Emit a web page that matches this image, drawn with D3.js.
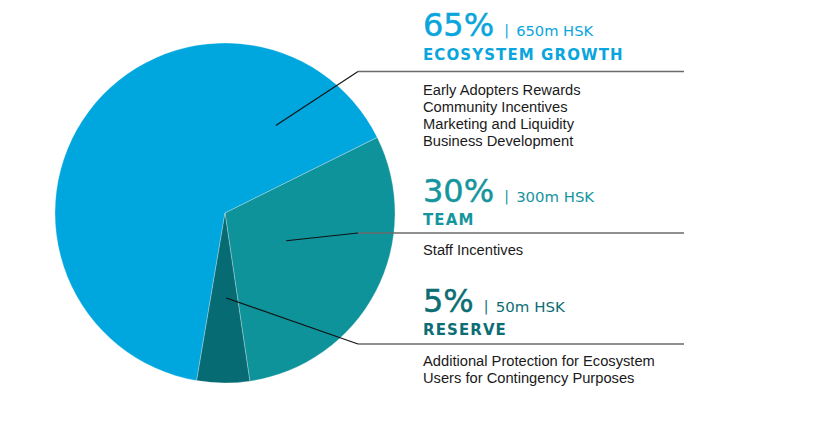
<!DOCTYPE html>
<html><head><meta charset="utf-8">
<script src="https://cdn.jsdelivr.net/npm/d3@7"></script>
<style>html,body{margin:0;padding:0;background:#fff;}svg{display:block;}</style>
</head><body>
<svg id="chart" width="814" height="436"></svg>
<script>
const categories = ["Ecosystem Growth", "Team", "Reserve"];
const percents = [65, 30, 5];
const amounts = ["650m HSK", "300m HSK", "50m HSK"];
const titles = ["ECOSYSTEM GROWTH", "TEAM", "RESERVE"];
const descriptions = [
  ["Early Adopters Rewards", "Community Incentives", "Marketing and Liquidity", "Business Development"],
  ["Staff Incentives"],
  ["Additional Protection for Ecosystem", "Users for Contingency Purposes"]
];
const sliceColors = ["#00a6de", "#0f939b", "#066b73"];
const textColors = ["#09a5dc", "#15959d", "#0c6d74"];

const svg = d3.select("#chart");
const cx = 225, cy = 213, R = 170;
const deg = Math.PI / 180;
const start = 189.6 * deg;

const pie = d3.pie().sort(null).value(d => d).startAngle(start).endAngle(start + 2 * Math.PI);
const arcs = pie(percents);
const arc = d3.arc().innerRadius(0).outerRadius(R);

const g = svg.append("g").attr("transform", `translate(${cx},${cy})`);
g.selectAll("path").data(arcs).join("path")
  .attr("d", arc)
  .attr("fill", (d, i) => sliceColors[i])
  .attr("stroke", "rgba(255,255,255,0.35)")
  .attr("stroke-width", 0.8);

// label block layout
const blockX = 423;
const pctBase = [36, 202, 312];
const titleBase = [60, 225, 335];
const lineYs = [71.5, 233, 344];
const bodyBase = [94.5, 255, 366];
const lineX0 = 358, lineX1 = 684;
// leader anchors inside slices: fraction of slice angle, fraction of radius
const anchorF = [[0.857, 0.595], [0.47, 0.395], [0.42, 0.5]];

arcs.forEach((a, i) => {
  const base = pctBase[i];
  const ang = a.startAngle + anchorF[i][0] * (a.endAngle - a.startAngle);
  const rr = anchorF[i][1] * R;
  const ax = cx + rr * Math.sin(ang), ay = cy - rr * Math.cos(ang);
  const ly = lineYs[i];

  svg.append("line").attr("x1", ax).attr("y1", ay).attr("x2", lineX0).attr("y2", ly)
    .attr("stroke", "#111").attr("stroke-width", 1.1);
  svg.append("line").attr("x1", lineX0).attr("y1", ly).attr("x2", lineX1).attr("y2", ly)
    .attr("stroke", "#6a6a6a").attr("stroke-width", 1.5);

  const pct = svg.append("text").attr("x", blockX).attr("y", base)
    .attr("font-family", "DejaVu Sans").attr("font-size", 32)
    .attr("fill", textColors[i]).attr("stroke", textColors[i]).attr("stroke-width", 0.45)
    .text(percents[i] + "%");
  const w = pct.node().getComputedTextLength();
  svg.append("text").attr("x", blockX + w + 10).attr("y", base - 1)
    .attr("font-family", "DejaVu Sans").attr("font-size", 14)
    .attr("fill", textColors[i]).text("|");
  svg.append("text").attr("x", blockX + w + 22).attr("y", base)
    .attr("font-family", "DejaVu Sans").attr("font-size", 13.5)
    .attr("fill", textColors[i]).text(amounts[i])
    .attr("textLength", [77, 78, 69][i]).attr("lengthAdjust", "spacingAndGlyphs");

  svg.append("text").attr("x", blockX).attr("y", titleBase[i])
    .attr("font-family", "DejaVu Sans").attr("font-weight", "bold").attr("font-size", 15)
    .attr("letter-spacing", 1.1).attr("fill", textColors[i]).text(titles[i]);

  descriptions[i].forEach((t, j) => {
    svg.append("text").attr("x", blockX).attr("y", bodyBase[i] + j * 17.3)
      .attr("font-family", "Liberation Sans, Arial, sans-serif").attr("font-size", 14.7)
      .attr("fill", "#1a1a1a").text(t);
  });
});
</script>
</body></html>
